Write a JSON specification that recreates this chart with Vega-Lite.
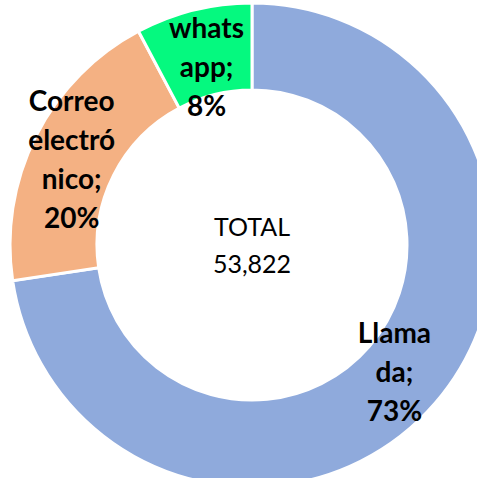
{
  "$schema": "https://vega.github.io/schema/vega-lite/v6.json",
  "width": 504,
  "height": 490,
  "autosize": "none",
  "padding": 0,
  "background": "white",
  "config": {"view": {"stroke": null}},
  "layer": [
    {
      "data": {"values": [
        {"canal": "Llamada", "valor": 39100, "orden": 1, "etiqueta": ["Llama", "da;", "73%"]},
        {"canal": "Correo electrónico", "valor": 10540, "orden": 2, "etiqueta": ["Correo", "electró", "nico;", "20%"]},
        {"canal": "whats app", "valor": 4182, "orden": 3, "etiqueta": ["whats", "app;", "8%"]}
      ]},
      "encoding": {
        "theta": {"field": "valor", "type": "quantitative", "stack": true},
        "order": {"field": "orden", "type": "quantitative"}
      },
      "layer": [
        {
          "mark": {"type": "arc", "innerRadius": 155, "outerRadius": 242, "stroke": "white", "strokeWidth": 3},
          "encoding": {
            "color": {
              "field": "canal", "type": "nominal",
              "scale": {"domain": ["Llamada", "Correo electrónico", "whats app"], "range": ["#8FAADC", "#F4B183", "#05F97F"]},
              "legend": null
            }
          }
        },
        {
          "mark": {"type": "text", "radius": 188, "dy": -33, "font": "Lato", "fontWeight": "bold", "fontSize": 28, "lineHeight": 39, "align": "center", "baseline": "middle", "color": "black"},
          "encoding": {"text": {"condition": {"test": "datum.orden != 2", "field": "etiqueta"}, "value": ""}}
        },
        {
          "mark": {"type": "text", "radius": 202, "dy": -51, "font": "Lato", "fontWeight": "bold", "fontSize": 28, "lineHeight": 39, "align": "center", "baseline": "middle", "color": "black"},
          "encoding": {"text": {"condition": {"test": "datum.orden == 2", "field": "etiqueta"}, "value": ""}}
        }
      ]
    },
    {
      "data": {"values": [{"texto": ["TOTAL", "53,822"]}]},
      "mark": {"type": "text", "dy": -17, "font": "Lato", "fontSize": 25, "lineHeight": 37, "align": "center", "baseline": "middle", "color": "black"},
      "encoding": {"text": {"field": "texto"}}
    }
  ]
}
